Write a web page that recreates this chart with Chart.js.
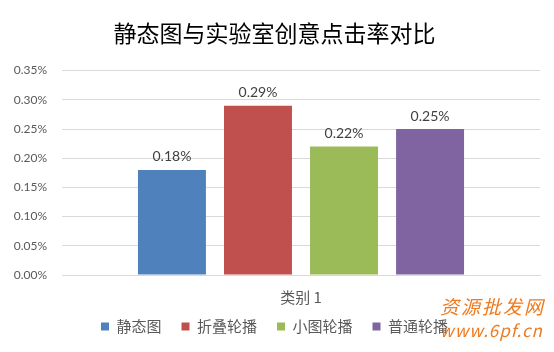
<!DOCTYPE html>
<html>
<head>
<meta charset="utf-8">
<script src="https://cdn.jsdelivr.net/npm/chart.js@4"></script>
<style>
  html, body { margin: 0; padding: 0; background: #fff; }
  #wrap { position: relative; width: 554px; height: 352px; }
  .wm { position: absolute; color: #f07a1e; font-family: "Noto Sans CJK SC"; font-style: italic; white-space: nowrap; }
</style>
</head>
<body>
<div id="wrap">
  <canvas id="chart" width="554" height="352"></canvas>
  <div class="wm" style="left:440px; top:292px; font-size:19px; letter-spacing:2px;">资源批发网</div>
  <div class="wm" style="left:440px; top:317px; font-size:17px; letter-spacing:1px;">www.6pf.cn</div>
</div>
<script>
const categories = ['类别 1'];
const seriesNames = ['静态图', '折叠轮播', '小图轮播', '普通轮播'];
const seriesValues = [0.18, 0.29, 0.22, 0.25];
const seriesColors = ['#4f81bd', '#c0504d', '#9bbb59', '#8064a2'];

const cjk = '"Noto Sans CJK SC", sans-serif';
const latin = 'Lato, "Noto Sans CJK SC", sans-serif';

// value labels above each bar
const barLabels = {
    id: 'barLabels',
    afterDatasetsDraw(chart) {
        const ctx = chart.ctx;
        ctx.save();
        ctx.font = '14px ' + latin;
        ctx.fillStyle = '#404040';
        ctx.textAlign = 'center';
        ctx.textBaseline = 'bottom';
        chart.data.datasets.forEach((ds, i) => {
            const meta = chart.getDatasetMeta(i);
            meta.data.forEach((bar, j) => {
                ctx.fillText(ds.data[j].toFixed(2) + '%', bar.x, bar.y - 6);
            });
        });
        ctx.restore();
    }
};

new Chart(document.getElementById('chart'), {
    type: 'bar',
    data: {
        labels: categories,
        datasets: seriesNames.map((name, i) => ({
            label: name,
            data: [seriesValues[i]],
            backgroundColor: seriesColors[i],
            categoryPercentage: 0.72,
            barPercentage: 0.79
        }))
    },
    options: {
        responsive: false,
        animation: false,
        layout: { padding: { left: 9, right: 14, top: 0, bottom: 8 } },
        plugins: {
            title: {
                display: true,
                text: '静态图与实验室创意点击率对比',
                color: '#000',
                font: { family: cjk, size: 23, weight: 'normal' },
                padding: { top: 19, bottom: 24 }
            },
            legend: {
                position: 'bottom',
                labels: {
                    boxWidth: 8,
                    boxHeight: 8,
                    color: '#595959',
                    padding: 20,
                    font: { family: cjk, size: 15 }
                }
            },
            tooltip: { enabled: false }
        },
        scales: {
            x: {
                grid: { display: false, drawTicks: false, tickLength: 0 },
                border: { color: '#d9d9d9' },
                ticks: { display: false },
                // the single category name, shown under the axis
                title: {
                    display: true,
                    text: categories[0],
                    color: '#595959',
                    font: { family: cjk, size: 15 },
                    padding: { top: 13, bottom: -7 }
                }
            },
            y: {
                min: 0,
                max: 0.35,
                ticks: {
                    stepSize: 0.05,
                    color: '#595959',
                    padding: 15,
                    font: { family: latin, size: 12 },
                    callback: v => v.toFixed(2) + '%'
                },
                grid: { color: '#d9d9d9', tickLength: 0 },
                border: { display: false },
                afterFit: scale => { scale.width = 53; }
            }
        }
    },
    plugins: [barLabels]
});
</script>
</body>
</html>
